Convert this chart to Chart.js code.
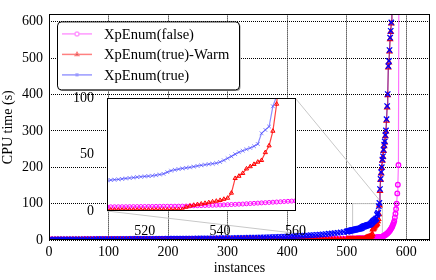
<!DOCTYPE html>
<html>
<head>
<meta charset="utf-8">
<script src="https://cdn.jsdelivr.net/npm/chart.js@4.4.0/dist/chart.umd.min.js"></script>
<style>
  html, body { margin: 0; padding: 0; background: #fff; }
  #wrap { position: relative; width: 436px; height: 280px; overflow: hidden; }
  #main { position: absolute; left: 0; top: 0; }
  #inset { position: absolute; left: 60px; top: 85px; }
</style>
</head>
<body>
<div id="wrap">
  <canvas id="main" width="436" height="280"></canvas>
  <canvas id="inset" width="250" height="150"></canvas>
</div>
<script>
// --- DATA ---

// instance numbers: every 5th up to 500, then every instance
const instances = [
  1, 5, 10, 15, 20, 25, 30, 35, 40, 45, 50, 55, 60, 65, 70, 75, 80, 85, 90, 95, 100,
  105, 110, 115, 120, 125, 130, 135, 140, 145, 150, 155, 160, 165, 170, 175, 180, 185, 190, 195, 200,
  205, 210, 215, 220, 225, 230, 235, 240, 245, 250, 255, 260, 265, 270, 275, 280, 285, 290, 295, 300,
  305, 310, 315, 320, 325, 330, 335, 340, 345, 350, 355, 360, 365, 370, 375, 380, 385, 390, 395, 400,
  405, 410, 415, 420, 425, 430, 435, 440, 445, 450, 455, 460, 465, 470, 475, 480, 485, 490, 495, 500,
  501, 502, 503, 504, 505, 506, 507, 508, 509, 510,
  511, 512, 513, 514, 515, 516, 517, 518, 519, 520,
  521, 522, 523, 524, 525, 526, 527, 528, 529, 530,
  531, 532, 533, 534, 535, 536, 537, 538, 539, 540,
  541, 542, 543, 544, 545, 546, 547, 548, 549, 550,
  551, 552, 553, 554, 555, 556, 557, 558, 559, 560,
  561, 562, 563, 564, 565, 566, 567, 568, 569, 570,
  571, 572, 573, 574, 575, 576, 577, 578, 579, 580,
  581, 582, 583, 584, 585, 586, 587, 588, 589, 590
];

// XpEnum(false)
const falseTimes = [
  1.5,
  1.5, 1.55, 1.6, 1.6, 1.65, 1.7, 1.7, 1.75, 1.8, 1.8, 1.85, 1.9, 1.9, 1.95, 2.0, 2.0, 2.05, 2.1, 2.1, 2.15,
  2.15, 2.2, 2.2, 2.25, 2.25, 2.3, 2.3, 2.35, 2.35, 2.4, 2.4, 2.45, 2.45, 2.5, 2.5, 2.55, 2.55, 2.6, 2.6, 2.65,
  2.65, 2.7, 2.7, 2.7, 2.75, 2.75, 2.8, 2.8, 2.8, 2.85, 2.85, 2.85, 2.9, 2.9, 2.9, 2.95, 2.95, 2.95, 3.0, 3.0,
  3.0, 3.0, 3.05, 3.05, 3.05, 3.05, 3.1, 3.1, 3.1, 3.1, 3.1, 3.1, 3.15, 3.15, 3.15, 3.15, 3.15, 3.15, 3.15, 3.15,
  3.15, 3.15, 3.15, 3.15, 3.15, 3.15, 3.15, 3.15, 3.2, 3.2, 3.2, 3.2, 3.2, 3.2, 3.2, 3.2, 3.2, 3.2, 3.2, 3.2,
  3.25, 3.3, 3.35, 3.4, 3.45, 3.5, 3.55, 3.6, 3.65, 3.7,
  3.72, 3.75, 3.78, 3.8, 3.83, 3.86, 3.9, 3.93, 3.96, 4.0,
  4.03, 4.06, 4.1, 4.13, 4.16, 4.2, 4.23, 4.26, 4.3, 4.35,
  4.4, 4.5, 4.6, 4.7, 4.8, 4.9, 5.0, 5.1, 5.2, 5.3,
  5.45, 5.6, 5.75, 5.9, 6.05, 6.2, 6.4, 6.6, 6.8, 7.0,
  7.2, 7.4, 7.6, 7.8, 8.0, 8.2, 8.4, 8.6, 8.8, 9.0,
  10, 11, 12, 13, 14, 15, 16.5, 18, 19.5, 21,
  23, 25, 27, 29.5, 32, 35, 38.5, 43, 47, 52,
  62, 72, 85, 100, 128, 152, 206, 950
];

// XpEnum(true)-Warm
const warmTimes = [
  0.2,
  0.2, 0.2, 0.2, 0.2, 0.25, 0.25, 0.25, 0.25, 0.3, 0.3, 0.3, 0.3, 0.3, 0.3, 0.35, 0.35, 0.35, 0.35, 0.35, 0.35,
  0.35, 0.4, 0.4, 0.4, 0.4, 0.4, 0.4, 0.45, 0.45, 0.45, 0.45, 0.45, 0.5, 0.5, 0.5, 0.5, 0.5, 0.5, 0.55, 0.55,
  0.55, 0.55, 0.55, 0.6, 0.6, 0.6, 0.6, 0.6, 0.65, 0.65, 0.65, 0.65, 0.65, 0.7, 0.7, 0.7, 0.7, 0.7, 0.7, 0.75,
  0.75, 0.75, 0.75, 0.75, 0.75, 0.8, 0.8, 0.8, 0.8, 0.8, 0.8, 0.8, 0.85, 0.85, 0.85, 0.85, 0.85, 0.85, 0.85, 0.85,
  0.85, 0.85, 0.9, 0.9, 0.9, 0.9, 0.9, 0.9, 0.9, 0.9, 0.9, 0.9, 0.9, 0.9, 0.95, 0.95, 0.95, 0.95, 0.95, 0.95,
  0.95, 0.95, 0.95, 0.95, 0.95, 0.95, 0.95, 0.95, 0.95, 1.0,
  1.0, 1.0, 1.0, 1.0, 1.0, 1.0, 1.0, 1.0, 1.0, 1.0,
  1.0, 1.0, 1.05, 1.05, 1.1, 1.1, 1.15, 1.2, 1.3, 1.5,
  3.5, 4.5, 5.2, 5.8, 6.3, 6.9, 7.5, 8.2, 8.8, 9.5,
  10.5, 11.5, 16.0, 29.0, 31.0, 33.5, 37.5, 39.5, 41.5, 43.5,
  45.0, 52.0, 58.0, 71.0, 95.0, 135, 165, 183, 198, 218,
  228, 245, 258, 268, 285, 298, 328, 364, 398, 474,
  488, 518, 552, 572, 595, 660
];

// XpEnum(true)
const trueTimes = [
  1.2,
  1.3, 1.4, 1.4, 1.5, 1.5, 1.6, 1.6, 1.7, 1.7, 1.8, 1.8, 1.9, 1.9, 2.0, 2.0, 2.1, 2.1, 2.2, 2.2, 2.3,
  2.3, 2.4, 2.4, 2.5, 2.5, 2.6, 2.6, 2.7, 2.7, 2.8, 2.8, 2.9, 2.9, 3.0, 3.0, 3.1, 3.2, 3.2, 3.3, 3.4,
  3.4, 3.5, 3.6, 3.6, 3.7, 3.8, 3.9, 4.0, 4.0, 4.1, 4.2, 4.3, 4.4, 4.5, 4.6, 4.7, 4.8, 4.9, 5.0, 5.1,
  5.3, 5.4, 5.6, 5.7, 5.9, 6.0, 6.2, 6.4, 6.6, 6.8, 7.0, 7.2, 7.4, 7.7, 7.9, 8.2, 8.5, 8.8, 9.1, 9.5,
  9.9, 10.3, 10.7, 11.1, 11.6, 12.1, 12.6, 13.1, 13.6, 14.2, 15.0, 15.7, 16.4, 17.2, 18.0, 18.9, 19.8, 20.8, 21.9, 23.0,
  23.4, 23.8, 24.2, 24.6, 25.0, 25.5, 26.0, 26.4, 26.8, 27.2,
  27.5, 27.8, 28.1, 28.5, 28.9, 29.3, 29.7, 30.1, 30.4, 30.7,
  31.0, 31.3, 31.8, 32.4, 33.0, 34.5, 35.8, 36.6, 37.2, 37.8,
  38.3, 38.8, 39.4, 40.0, 40.6, 41.1, 41.6, 42.0, 42.5, 43.5,
  45.0, 46.8, 48.5, 50.5, 52.2, 53.5, 54.8, 56.0, 57.5, 59.5,
  69.0, 72.0, 75.0, 93.0, 102, 140, 168, 186, 200, 221,
  230, 248, 262, 271, 288, 301, 332, 368, 401, 478,
  492, 522, 556, 575, 598, 660
];

const xTicks = [0, 100, 200, 300, 400, 500, 600];
const yTicks = [0, 100, 200, 300, 400, 500, 600];
const insetXTicks = [520, 540, 560];
const insetYTicks = [0, 50, 100];
const zoomBox = [510, 560, 0, 100];   // x from, x to, y from, y to

// legend order; lower "order" is drawn on top
const SERIES = [
  { label: 'XpEnum(false)', values: falseTimes, marker: 'circle', order: 3,
    line: 'rgba(255,0,255,0.55)', legendLine: '#ff99ff', markMain: '#ff00ff', markInset: '#ff00ff', rMain: 2.3, rInset: 2.0 },
  { label: 'XpEnum(true)-Warm', values: warmTimes, marker: 'triangle', order: 2,
    line: 'rgba(255,0,0,0.75)', legendLine: '#ff8080', markMain: '#ff0000', markInset: '#ff0000', rMain: 2.8, rInset: 2.4 },
  { label: 'XpEnum(true)', values: trueTimes, marker: 'crossRot', order: 1,
    line: 'rgba(0,0,255,0.45)', legendLine: '#9999ff', markMain: '#0000ff', markInset: 'rgba(60,60,255,0.6)', rMain: 3.8, rInset: 2.7 }
];

const FONT = '"Liberation Serif", "Times New Roman", serif';
Chart.defaults.font.family = FONT;
Chart.defaults.color = '#000';

function makeDatasets(isMain) {
  return SERIES.map(s => ({
    label: s.label,
    data: s.values.map((v, i) => ({ x: instances[i], y: v })),
    borderColor: s.line,
    borderWidth: 1.2,
    pointStyle: s.marker,
    pointRadius: isMain ? s.rMain : s.rInset,
    pointBorderColor: isMain ? s.markMain : s.markInset,
    pointBackgroundColor: 'rgba(0,0,0,0)',
    pointBorderWidth: isMain ? 1.3 : 1,
    order: s.order,
    tension: 0,
    fill: false
  }));
}

function setTicks(list) {
  return scale => { scale.ticks = list.map(v => ({ value: v })); };
}

// --- PLUGINS ---

const frame = {
  id: 'frame',
  beforeDraw(chart, args, opts) {
    if (!opts.fillWhite) return;
    const { ctx, chartArea: a } = chart;
    ctx.save();
    ctx.fillStyle = '#fff';
    ctx.fillRect(a.left, a.top, a.right - a.left, a.bottom - a.top);
    ctx.restore();
  },
  afterDatasetsDraw(chart) {
    const { ctx, chartArea: a } = chart;
    ctx.save();
    ctx.strokeStyle = '#000';
    ctx.lineWidth = 1;
    ctx.strokeRect(Math.round(a.left) + 0.5, Math.round(a.top) + 0.5,
      Math.round(a.right - a.left) - 1, Math.round(a.bottom - a.top) - 1);
    ctx.restore();
  }
};

const zoomLines = {
  id: 'zoomLines',
  beforeDatasetsDraw(chart) {
    const { ctx, scales: { x, y } } = chart;
    const x0 = x.getPixelForValue(zoomBox[0]), x1 = x.getPixelForValue(zoomBox[1]);
    const y0 = y.getPixelForValue(zoomBox[2]), y1 = y.getPixelForValue(zoomBox[3]);
    const cv = insetChart.canvas, ia = insetChart.chartArea;
    const il = cv.offsetLeft + ia.left, ir = cv.offsetLeft + ia.right;
    const it = cv.offsetTop + ia.top, ib = cv.offsetTop + ia.bottom;
    ctx.save();
    ctx.strokeStyle = '#c8c8c8';
    ctx.lineWidth = 1;
    ctx.strokeRect(x0, y1, x1 - x0, y0 - y1);
    ctx.beginPath();
    ctx.moveTo(ir, it); ctx.lineTo(x1, y1);
    ctx.moveTo(il, ib); ctx.lineTo(x0, y0);
    ctx.stroke();
    ctx.restore();
  }
};

const boxLegend = {
  id: 'boxLegend',
  afterDraw(chart) {
    const { ctx, chartArea: a } = chart;
    const bx = a.left + 8, by = a.top + 7, bw = 182, bh = 68;
    ctx.save();
    ctx.fillStyle = '#9a9a9a';
    ctx.beginPath(); ctx.roundRect(bx + 1.5, by + 1.5, bw, bh, 4); ctx.fill();
    ctx.fillStyle = '#fff';
    ctx.strokeStyle = '#000';
    ctx.lineWidth = 1;
    ctx.beginPath(); ctx.roundRect(bx + 0.5, by + 0.5, bw, bh, 4); ctx.fill(); ctx.stroke();
    ctx.font = '14.6px ' + FONT;
    ctx.textBaseline = 'middle';
    SERIES.forEach((s, i) => {
      const cy = by + 12.5 + i * 20.5;
      ctx.strokeStyle = s.legendLine;
      ctx.lineWidth = 1.5;
      ctx.beginPath(); ctx.moveTo(bx + 5, cy); ctx.lineTo(bx + 35, cy); ctx.stroke();
      Chart.helpers.drawPoint(ctx, {
        pointStyle: s.marker, radius: 2, borderWidth: 1,
        borderColor: s.markMain, backgroundColor: 'rgba(0,0,0,0)'
      }, bx + 20, cy);
      ctx.fillStyle = '#000';
      ctx.fillText(s.label, bx + 47, cy + 1);
    });
    ctx.restore();
  }
};

// --- CHARTS ---

const insetChart = new Chart(document.getElementById('inset'), {
  type: 'line',
  data: { datasets: makeDatasets(false) },
  options: {
    responsive: false,
    animation: false,
    layout: { padding: { left: 0, right: 13, top: 9, bottom: 0 } },
    plugins: { legend: { display: false }, tooltip: { enabled: false }, frame: { fillWhite: true } },
    scales: {
      x: {
        type: 'linear', min: zoomBox[0], max: zoomBox[1],
        afterBuildTicks: setTicks(insetXTicks),
        afterFit: s => { s.height = 24; },
        grid: { display: false },
        border: { display: false },
        ticks: { font: { size: 14 }, padding: 4, maxRotation: 0, autoSkip: false }
      },
      y: {
        type: 'linear', min: zoomBox[2], max: zoomBox[3],
        afterBuildTicks: setTicks(insetYTicks),
        afterFit: s => { s.width = 47; },
        grid: { display: false },
        border: { display: false },
        ticks: { font: { size: 14 }, padding: 5, autoSkip: false }
      }
    }
  },
  plugins: [frame]
});

const mainChart = new Chart(document.getElementById('main'), {
  type: 'line',
  data: { datasets: makeDatasets(true) },
  options: {
    responsive: false,
    animation: false,
    layout: { padding: { left: 0, right: 6, top: 5, bottom: 0 } },
    plugins: { legend: { display: false }, tooltip: { enabled: false }, frame: { fillWhite: false } },
    scales: {
      x: {
        type: 'linear', min: 0, max: 640,
        afterBuildTicks: setTicks(xTicks),
        afterFit: s => { s.height = 40; },
        grid: { color: '#000', lineWidth: 1, drawTicks: false },
        border: { display: false, dash: [1, 1] },
        ticks: { font: { size: 14 }, padding: 4, maxRotation: 0, autoSkip: false },
        title: { display: true, text: 'instances', font: { size: 14 }, padding: { top: 0, bottom: 3 } }
      },
      y: {
        type: 'linear', min: 0, max: 620,
        afterBuildTicks: setTicks(yTicks),
        afterFit: s => { s.width = 49; },
        grid: { color: '#000', lineWidth: 1, drawTicks: false },
        border: { display: false, dash: [1, 1] },
        ticks: { font: { size: 14 }, padding: 6, autoSkip: false },
        title: { display: true, text: 'CPU time (s)', font: { size: 14 }, padding: { top: 0, bottom: 0 } }
      }
    }
  },
  plugins: [zoomLines, frame, boxLegend]
});
</script>
</body>
</html>
